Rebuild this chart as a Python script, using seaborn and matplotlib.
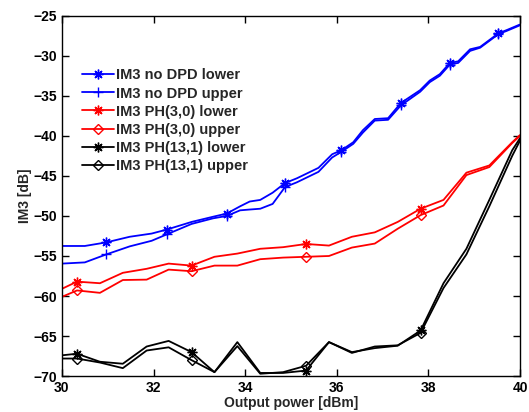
import matplotlib
matplotlib.use('Agg')
from matplotlib import pyplot as plt
import seaborn as sns

# blue: no DPD (own power grid)
x_nodpd = [30.0, 30.5, 30.97, 31.48, 31.96, 32.29, 32.83, 33.3, 33.6, 33.89, 34.1,
           34.33, 34.6, 34.87, 35.13, 35.6, 35.9, 36.1, 36.36, 36.57, 36.83, 37.12,
           37.4, 37.82, 38.03, 38.25, 38.47, 38.65, 38.91, 39.13, 39.53, 39.71, 40.0]
nodpd_lower = [-53.75, -53.75, -53.3, -52.6, -52.2, -51.7, -50.75, -50.1, -49.7, -48.8, -48.2,
               -48.0, -47.1, -45.9, -45.3, -44.0, -42.3, -41.8, -40.8, -39.3, -37.9, -37.8,
               -35.9, -34.3, -33.1, -32.3, -30.9, -30.7, -29.2, -28.9, -27.2, -26.8, -26.1]
nodpd_upper = [-55.95, -55.8, -54.8, -53.8, -53.1, -52.3, -51.0, -50.3, -50.0, -49.3, -49.2,
               -49.1, -48.5, -46.4, -45.8, -44.5, -42.7, -42.0, -41.0, -39.6, -38.1, -38.0,
               -36.2, -34.5, -33.3, -32.5, -31.1, -30.9, -29.4, -29.0, -27.3, -26.9, -26.2]
nodpd_marks = [2, 5, 8, 13, 17, 22, 26, 30]

# red / black: with DPD
x_dpd = [30.0, 30.33, 30.83, 31.33, 31.85, 32.33, 32.83, 33.33, 33.83, 34.33, 34.83,
         35.33, 35.83, 36.33, 36.83, 37.33, 37.83, 38.33, 38.83, 39.33, 39.83, 40.0]
ph30_lower = [-59.1, -58.2, -58.4, -57.1, -56.6, -55.95, -56.2, -55.1, -54.7, -54.1, -53.9,
              -53.5, -53.7, -52.6, -52.05, -50.75, -49.1, -48.0, -44.6, -43.7, -40.8, -39.9]
ph30_upper = [-60.1, -59.3, -59.6, -58.0, -57.95, -56.7, -56.9, -56.2, -56.2, -55.4, -55.2,
              -55.1, -55.0, -53.95, -53.45, -51.6, -49.9, -48.7, -44.9, -43.9, -40.9, -40.0]
ph131_lower = [-67.4, -67.2, -68.2, -68.45, -66.3, -65.6, -67.0, -69.5, -65.75, -69.6, -69.6,
               -69.3, -65.75, -67.0, -66.5, -66.2, -64.3, -58.4, -54.1, -48.0, -41.8, -40.3]
ph131_upper = [-67.8, -67.8, -68.3, -69.0, -66.8, -66.4, -68.0, -69.5, -66.25, -69.7, -69.5,
               -68.7, -65.75, -67.1, -66.3, -66.15, -64.6, -59.0, -54.8, -48.8, -42.5, -40.6]
dpd_marks = [1, 6, 11, 16]

sns.set_style('ticks')
plt.rcParams['font.family'] = ['Liberation Sans', 'DejaVu Sans']
plt.rcParams['font.weight'] = 'bold'

fig = plt.figure(figsize=(5.29, 4.12), dpi=100)
ax = fig.add_axes([0.117, 0.087, 0.866, 0.875])

star = (8, 2, 0)
series = [
    (x_nodpd, nodpd_lower, 'IM3 no DPD lower', 'blue', star, nodpd_marks),
    (x_nodpd, nodpd_upper, 'IM3 no DPD upper', 'blue', '+', nodpd_marks),
    (x_dpd, ph30_lower, 'IM3 PH(3,0) lower', 'red', star, dpd_marks),
    (x_dpd, ph30_upper, 'IM3 PH(3,0) upper', 'red', 'D', dpd_marks),
    (x_dpd, ph131_lower, 'IM3 PH(13,1) lower', 'black', star, dpd_marks),
    (x_dpd, ph131_upper, 'IM3 PH(13,1) upper', 'black', 'D', dpd_marks),
]
for xs, ys, name, col, mk, every in series:
    sns.lineplot(x=xs, y=ys, ax=ax, color=col, label=name, lw=1.3,
                 marker=mk, markevery=every, markersize=7 if mk != 'D' else 5,
                 mfc='none', mec=col, mew=1.0)

ax.set_xlim(30, 40)
ax.set_ylim(-70, -25)
ax.set_xticks(range(30, 41, 2))
ax.set_yticks(range(-70, -24, 5))
ax.tick_params(direction='in', top=True, right=True, length=5, width=1,
               labelsize=10, colors='black')
for t in ax.get_xticklabels() + ax.get_yticklabels():
    t.set_fontweight('bold')
for s in ax.spines.values():
    s.set_linewidth(1.0)
    s.set_color('black')
ax.set_xlabel('Output power [dBm]', fontsize=10, fontweight='bold', labelpad=1)
ax.set_ylabel('IM3 [dB]', fontsize=10, fontweight='bold', labelpad=1)

leg = ax.legend(loc='upper left', bbox_to_anchor=(0.015, 0.89), frameon=False,
                fontsize=10.5, handlelength=2.2, handletextpad=0.15, labelspacing=0.28)
for t in leg.get_texts():
    t.set_fontweight('bold')

fig.savefig('out.png', dpi=100)
